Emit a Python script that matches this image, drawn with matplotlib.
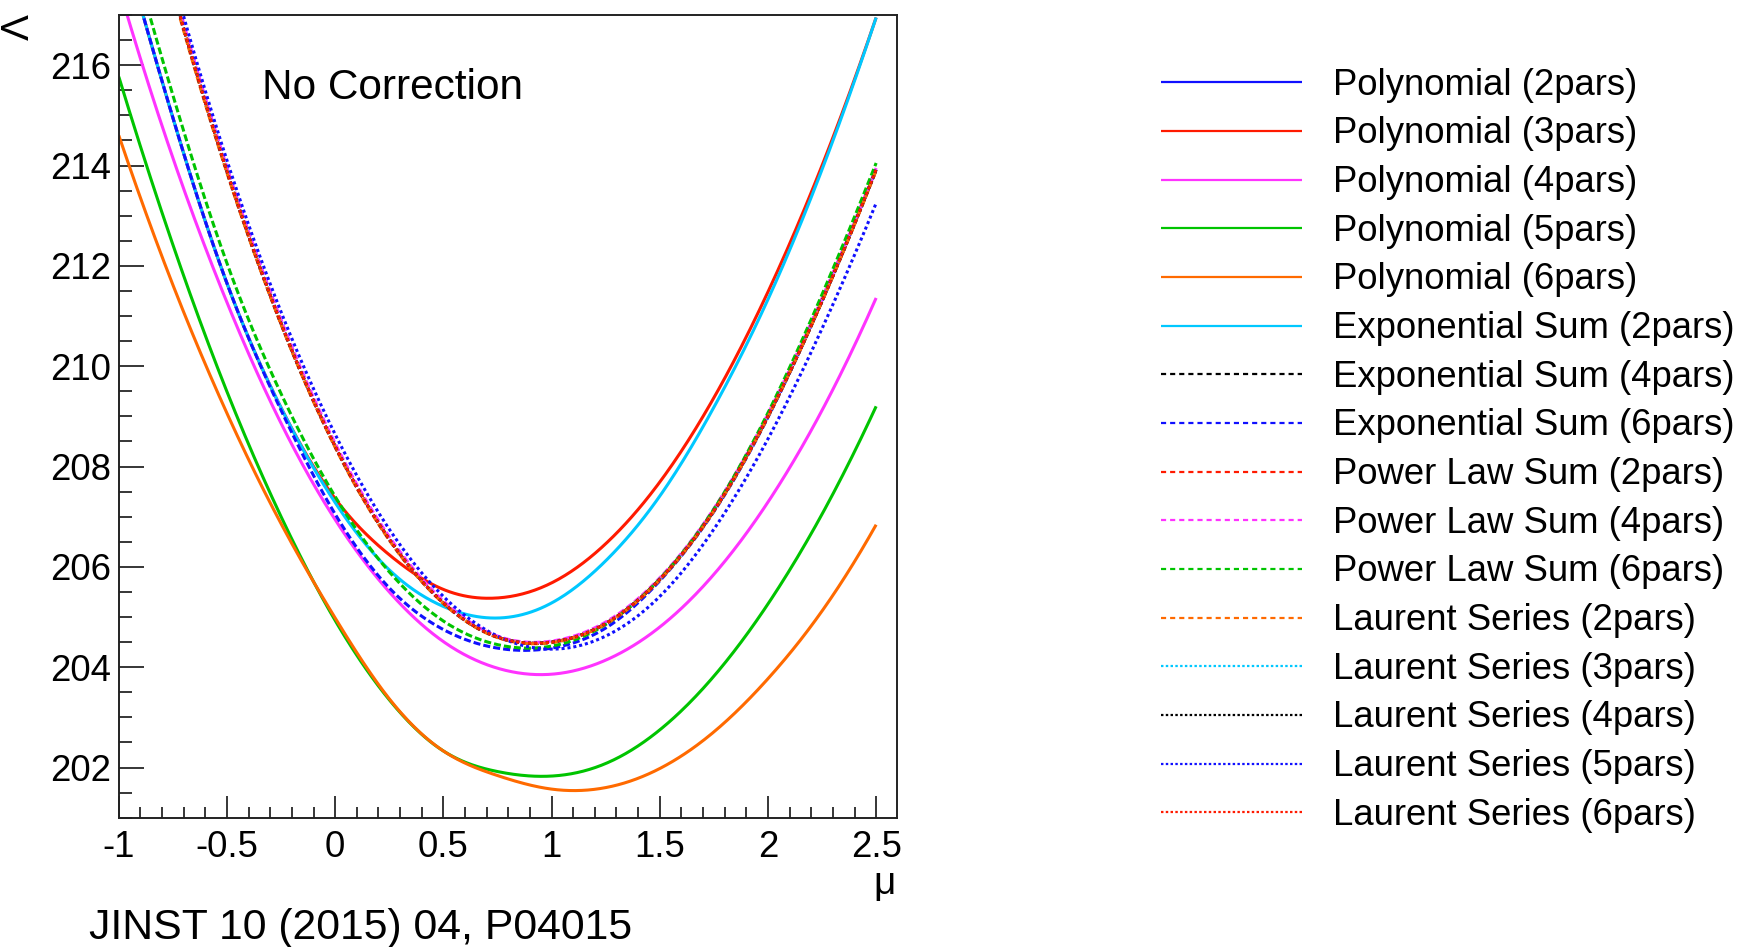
import numpy as np
import matplotlib
matplotlib.use("Agg")
import matplotlib.pyplot as plt
from matplotlib.lines import Line2D
from matplotlib.ticker import FuncFormatter

plt.rcParams['font.family'] = ['Liberation Sans', 'DejaVu Sans']
plt.rcParams['axes.unicode_minus'] = False

# ---- data: Lambda vs mu, sampled every 0.25 in mu ----
mu = [-1.0, -0.75, -0.5, -0.25, 0.0, 0.25, 0.5, 0.75, 1.0, 1.25, 1.5, 1.75, 2.0, 2.25, 2.5]

poly_2pars = []  # lies above the plotted Lambda range
poly_3pars = [218.75, 214.95, 211.65, 209.17, 207.36, 206.24, 205.55, 205.38, 205.68, 206.46, 207.69, 209.37, 211.48, 214.0, 216.95]
poly_4pars = [217.56, 214.15, 211.27, 208.86, 206.94, 205.5, 204.51, 203.98, 203.86, 204.14, 204.8, 205.85, 207.29, 209.12, 211.36]
poly_5pars = [215.77, 212.42, 209.49, 207.0, 204.93, 203.35, 202.33, 201.92, 201.83, 202.08, 202.75, 203.82, 205.26, 207.05, 209.2]
poly_6pars = [214.6, 211.62, 209.06, 206.86, 204.98, 203.37, 202.33, 201.84, 201.57, 201.6, 201.98, 202.71, 203.77, 205.12, 206.84]
exp_2pars = [218.75, 214.95, 211.65, 209.17, 207.28, 205.94, 205.21, 204.98, 205.28, 206.12, 207.41, 209.18, 211.33, 213.92, 216.95]
exp_4pars = [221.7, 217.5, 213.88, 210.85, 208.4, 206.55, 205.28, 204.6, 204.5, 204.87, 205.75, 207.12, 209.0, 211.3, 213.92]
exp_6pars = [218.75, 214.95, 211.65, 209.12, 207.05, 205.58, 204.75, 204.38, 204.38, 204.78, 205.72, 207.1, 208.98, 211.3, 213.92]
pow_2pars = [221.7, 217.5, 213.88, 210.85, 208.4, 206.55, 205.28, 204.6, 204.5, 204.87, 205.75, 207.12, 209.0, 211.3, 213.92]
pow_4pars = [221.8, 217.6, 213.96, 210.92, 208.46, 206.6, 205.32, 204.62, 204.52, 204.9, 205.78, 207.16, 209.05, 211.36, 213.95]
pow_6pars = [219.2, 215.4, 212.05, 209.45, 207.4, 205.9, 204.92, 204.45, 204.42, 204.85, 205.76, 207.15, 209.07, 211.43, 214.05]
lau_2pars = [221.65, 217.45, 213.85, 210.83, 208.38, 206.53, 205.27, 204.59, 204.49, 204.86, 205.74, 207.11, 208.99, 211.29, 213.9]
lau_3pars = [221.7, 217.5, 213.88, 210.85, 208.4, 206.55, 205.28, 204.6, 204.5, 204.87, 205.75, 207.12, 209.0, 211.3, 213.92]
lau_4pars = [221.7, 217.5, 213.88, 210.85, 208.4, 206.55, 205.28, 204.6, 204.5, 204.87, 205.75, 207.12, 209.0, 211.3, 213.92]
lau_5pars = [221.9, 217.74, 214.1, 211.08, 208.64, 206.75, 205.41, 204.62, 204.36, 204.62, 205.41, 206.75, 208.55, 210.75, 213.25]
lau_6pars = [221.7, 217.5, 213.88, 210.85, 208.4, 206.55, 205.28, 204.6, 204.5, 204.87, 205.75, 207.12, 209.0, 211.3, 213.92]

labels = ["Polynomial (2pars)", "Polynomial (3pars)", "Polynomial (4pars)",
          "Polynomial (5pars)", "Polynomial (6pars)", "Exponential Sum (2pars)",
          "Exponential Sum (4pars)", "Exponential Sum (6pars)", "Power Law Sum (2pars)",
          "Power Law Sum (4pars)", "Power Law Sum (6pars)", "Laurent Series (2pars)",
          "Laurent Series (3pars)", "Laurent Series (4pars)", "Laurent Series (5pars)",
          "Laurent Series (6pars)"]
series = [poly_2pars, poly_3pars, poly_4pars, poly_5pars, poly_6pars,
          exp_2pars, exp_4pars, exp_6pars, pow_2pars, pow_4pars, pow_6pars,
          lau_2pars, lau_3pars, lau_4pars, lau_5pars, lau_6pars]

BLUE, RED, MAG, GRN, ORG, CYN, BLK = '#1010ff', '#ff1a00', '#ff33ff', '#00c400', '#ff6a00', '#00c8ff', '#000000'
colors = [BLUE, RED, MAG, GRN, ORG, CYN, BLK, BLUE, RED, MAG, GRN, ORG, CYN, BLK, BLUE, RED]
styles = ['solid'] * 6 + ['dash'] * 6 + ['dot'] * 4


def spline(xs, ys, n=500):
    """Cubic spline through the samples (parabolic run-out ends)."""
    x = np.asarray(xs, float)
    y = np.asarray(ys, float)
    h = np.diff(x)
    m = len(x)
    A = np.zeros((m, m))
    r = np.zeros(m)
    A[0, 0], A[0, 1] = 1.0, -1.0
    A[-1, -1], A[-1, -2] = 1.0, -1.0
    for i in range(1, m - 1):
        A[i, i - 1] = h[i - 1]
        A[i, i] = 2 * (h[i - 1] + h[i])
        A[i, i + 1] = h[i]
        r[i] = 6 * ((y[i + 1] - y[i]) / h[i] - (y[i] - y[i - 1]) / h[i - 1])
    M = np.linalg.solve(A, r)
    xf = np.linspace(x[0], x[-1], n)
    k = np.clip(np.searchsorted(x, xf) - 1, 0, m - 2)
    t = xf - x[k]
    hk = h[k]
    a = (M[k + 1] - M[k]) / (6 * hk)
    b = M[k] / 2
    c = (y[k + 1] - y[k]) / hk - hk * (2 * M[k] + M[k + 1]) / 6
    return xf, y[k] + c * t + b * t ** 2 + a * t ** 3


W, H = 1742, 947
fig = plt.figure(figsize=(W / 100, H / 100), dpi=100)


def fx(px):
    return px / W


def fy(py):
    return 1 - py / H


ax = fig.add_axes([fx(118.8), fy(817.7), fx(896.7) - fx(118.8), fy(15) - fy(817.7)])

PLOT_LW = 2.2
plot_dash = {'solid': None, 'dash': (2.3, 1.0), 'dot': (1.0, 0.95)}
for vals, col, st in zip(series, colors, styles):
    if len(vals) == 0:
        continue
    xf, yf = spline(mu, vals)
    ln, = ax.plot(xf, yf, color=col, lw=PLOT_LW, solid_capstyle='butt')
    if plot_dash[st] is not None:
        ln.set_dashes(plot_dash[st])
        ln.set_dash_capstyle('butt')

ax.set_xlim(-1, 2.595)
ax.set_ylim(201, 217.0)
ax.set_xticks(np.arange(-1, 2.51, 0.5))
ax.set_xticks(np.arange(-1, 2.59, 0.1), minor=True)
ax.set_yticks(np.arange(202, 216.1, 2))
ax.set_yticks(np.arange(201, 217.01, 0.5), minor=True)
ax.xaxis.set_major_formatter(FuncFormatter(lambda v, p: '%g' % round(v, 2)))
ax.yaxis.set_major_formatter(FuncFormatter(lambda v, p: '%d' % round(v)))
ax.tick_params(which='both', direction='in', top=False, right=False, width=1.1, color='black')
ax.tick_params(axis='x', which='major', length=15.8, pad=8.5, labelsize=26.3)
ax.tick_params(axis='x', which='minor', length=8)
ax.tick_params(axis='y', which='major', length=18, pad=5.8, labelsize=26.3)
ax.tick_params(axis='y', which='minor', length=9.4)
for sp in ax.spines.values():
    sp.set_linewidth(1.4)
    sp.set_color('#222222')

# axis titles
fig.text(fx(37), fy(14), 'Λ', rotation=90, ha='right', va='top', fontsize=28)
fig.text(fx(896), fy(866), 'μ', ha='right', va='top', fontsize=28)

fig.text(fx(262), fy(99), 'No Correction', ha='left', va='baseline', fontsize=30.5)
fig.text(fx(89), fy(939), 'JINST 10 (2015) 04, P04015', ha='left', va='baseline', fontsize=30.8)

# legend
LEG_LW = 1.6
leg_dash = {'solid': None, 'dash': (2.3, 1.8), 'dot': (1.1, 1.05)}
for i, (lab, col, st) in enumerate(zip(labels, colors, styles)):
    yc = 82.2 + 48.67 * i
    ln = Line2D([fx(1161), fx(1302)], [fy(yc), fy(yc)], transform=fig.transFigure,
                color=col, lw=LEG_LW, solid_capstyle='butt')
    if leg_dash[st] is not None:
        ln.set_dashes(leg_dash[st])
    fig.add_artist(ln)
    fig.text(fx(1333), fy(yc + 12.5), lab, ha='left', va='baseline', fontsize=26.3)

fig.savefig('out.png', dpi=100)
